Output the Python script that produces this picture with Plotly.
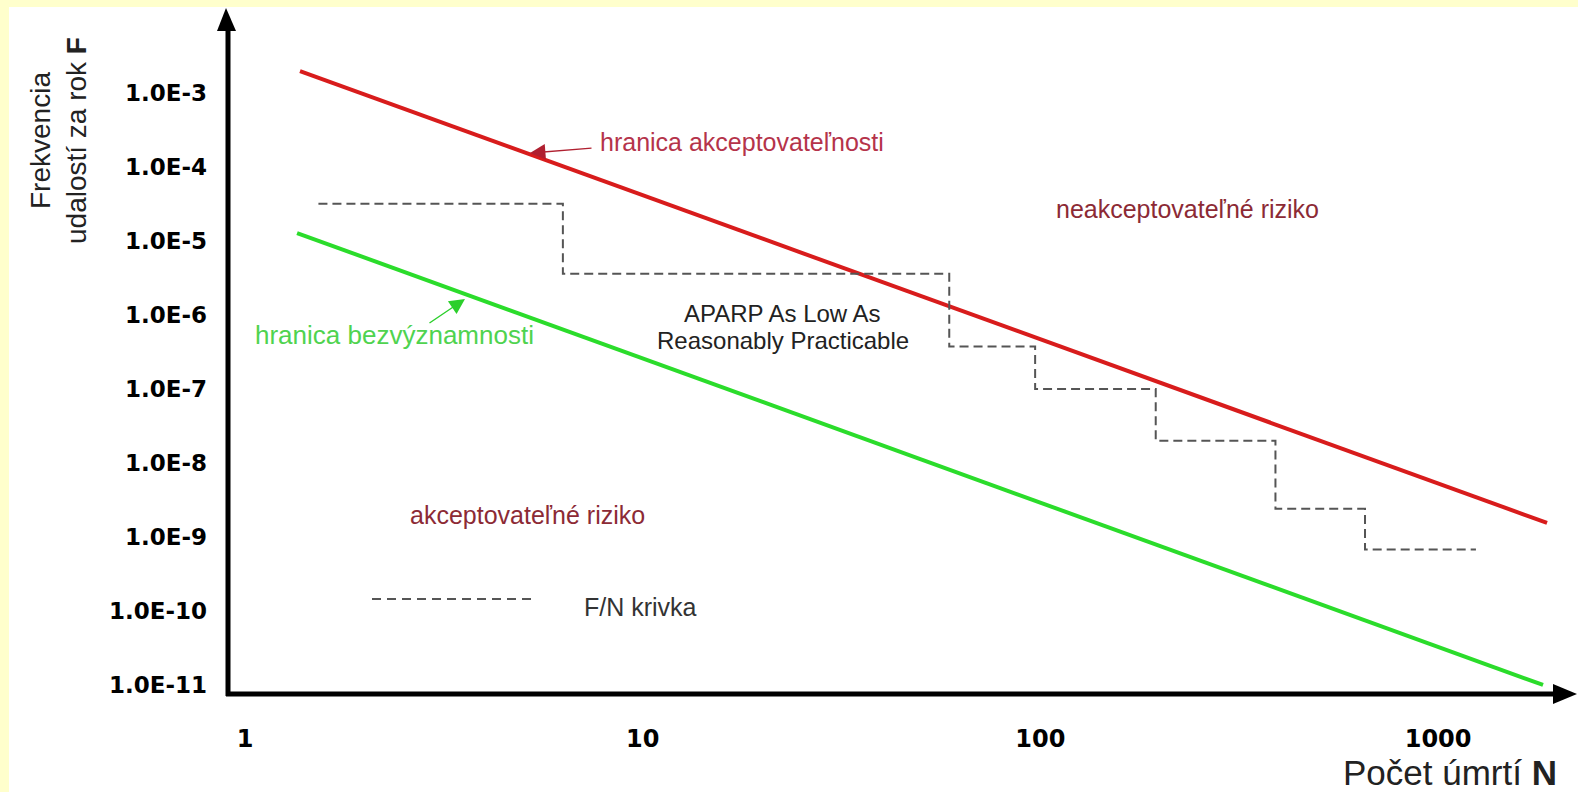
import plotly.graph_objects as go

# ---- data ----
accept_N = [1.375, 1879]          # hranica akceptovateľnosti (red)
accept_F = [1.98e-3, 1.55e-9]
negl_N = [1.352, 1836]            # hranica bezvýznamnosti (green)
negl_F = [1.28e-5, 1.0e-11]
fn_N = [1.53, 6.3, 59, 97, 195, 390, 655, 1245]   # F/N krivka (step)
fn_F = [3.2e-5, 3.6e-6, 3.75e-7, 1.0e-7, 2.0e-8, 2.4e-9, 6.8e-10, 6.8e-10]

y_tickvals = [1e-3, 1e-4, 1e-5, 1e-6, 1e-7, 1e-8, 1e-9, 1e-10, 1e-11]
y_ticktext = ["1.0E-3", "1.0E-4", "1.0E-5", "1.0E-6", "1.0E-7",
              "1.0E-8", "1.0E-9", "1.0E-10", "1.0E-11"]
x_tickvals = [1, 10, 100, 1000]
x_ticktext = ["1", "10", "100", "1000"]

# ---- layout geometry (pixels) ----
WIDTH, HEIGHT = 1578, 792
L, R, T, B = 228, 0, 8, 98
PW, PH = WIDTH - L - R, HEIGHT - T - B


def px(xp):
    return (xp - L) / PW


def py(yp):
    return (HEIGHT - B - yp) / PH


fig = go.Figure()
fig.add_trace(go.Scatter(x=accept_N, y=accept_F, mode="lines",
                         line=dict(color="#d81c1c", width=4), hoverinfo="skip"))
fig.add_trace(go.Scatter(x=negl_N, y=negl_F, mode="lines",
                         line=dict(color="#2bdc2b", width=4), hoverinfo="skip"))
fig.add_trace(go.Scatter(x=fn_N, y=fn_F, mode="lines", line_shape="hv",
                         line=dict(color="#555555", width=2, dash="9px,5px"),
                         hoverinfo="skip"))

TXT = "Liberation Sans, Arial, sans-serif"
BOLD = "DejaVu Sans, sans-serif"
shapes = []
# yellow frame (top and left)
shapes.append(dict(type="rect", xref="paper", yref="paper", x0=px(0), x1=px(WIDTH),
                   y0=py(7), y1=py(0), fillcolor="#ffffcc", line_width=0))
shapes.append(dict(type="rect", xref="paper", yref="paper", x0=px(0), x1=px(9),
                   y0=py(HEIGHT), y1=py(0), fillcolor="#ffffcc", line_width=0))
# axes with arrows
shapes.append(dict(type="line", xref="paper", yref="paper", x0=px(228), x1=px(228),
                   y0=py(696), y1=py(25), line=dict(color="black", width=5)))
shapes.append(dict(type="line", xref="paper", yref="paper", x0=px(226), x1=px(1560),
                   y0=py(694), y1=py(694), line=dict(color="black", width=5)))
shapes.append(dict(type="path", xref="paper", yref="paper",
                   path=f"M {px(226)},{py(8)} L {px(217)},{py(31)} L {px(236)},{py(31)} Z",
                   fillcolor="black", line_width=0))
shapes.append(dict(type="path", xref="paper", yref="paper",
                   path=f"M {px(1577)},{py(694)} L {px(1553)},{py(684)} L {px(1553)},{py(704)} Z",
                   fillcolor="black", line_width=0))
# legend sample line
shapes.append(dict(type="line", xref="paper", yref="paper", x0=px(372), x1=px(532),
                   y0=py(599), y1=py(599),
                   line=dict(color="#555555", width=2, dash="9px,6px")))

ann = []


def text(t, xp, yp, size, color, xanchor="center", angle=0):
    ann.append(dict(text=t, xref="paper", yref="paper", x=px(xp), y=py(yp),
                    xanchor=xanchor, yanchor="middle", showarrow=False,
                    textangle=angle, font=dict(family=TXT, size=size, color=color)))


text("hranica akceptovateľnosti", 598, 142, 25, "#b5334a", xanchor="left")
text("neakceptovateľné riziko", 1187, 209, 25, "#8c2a35")
text("APARP As Low As", 782, 314, 24, "#222222")
text("Reasonably Practicable", 783, 340, 24, "#222222")
text("hranica bezvýznamnosti", 253, 335, 26, "#4fd34f", xanchor="left")
text("akceptovateľné riziko", 527, 515, 25, "#8c2a35")
text("F/N krivka", 582, 607, 25, "#333333", xanchor="left")
text("Frekvencia<br>udalostí za rok <b>F</b>", 58, 141, 28, "#222222", angle=-90)
text("Počet úmrtí <b>N</b>", 1450, 772, 35, "#222222")

# arrows pointing to the boundary lines
ann.append(dict(text="", xref="paper", yref="paper", x=px(530), y=py(153),
                ax=63, ay=-5, showarrow=True, arrowhead=2, arrowsize=2.2,
                arrowwidth=1.4, arrowcolor="#b02030", standoff=0))
ann.append(dict(text="", xref="paper", yref="paper", x=px(465), y=py(299),
                ax=-37, ay=25, showarrow=True, arrowhead=2, arrowsize=2.2,
                arrowwidth=1.4, arrowcolor="#2bcf2b", standoff=0))

fig.update_layout(
    width=WIDTH, height=HEIGHT,
    margin=dict(l=L, r=R, t=T, b=B, pad=0),
    paper_bgcolor="white", plot_bgcolor="white",
    showlegend=False,
    shapes=shapes, annotations=ann,
    xaxis=dict(type="log", range=[-0.0427, 3.3518], showgrid=False, zeroline=False,
               showline=False, tickmode="array", tickvals=x_tickvals,
               ticktext=[f"<b>{t}</b>" for t in x_ticktext], ticks="",
               ticklabelstandoff=28,
               tickfont=dict(family=BOLD, size=24, color="black")),
    yaxis=dict(type="log", range=[-11.122, -1.851], showgrid=False, zeroline=False,
               showline=False, tickmode="array", tickvals=y_tickvals,
               ticktext=[f"<b>{t}</b>" for t in y_ticktext], ticks="",
               ticklabelstandoff=20,
               tickfont=dict(family=BOLD, size=23, color="black")),
)

fig.write_html("out.html",
               config={"displayModeBar": False},
               post_script="document.body.style.margin='0px';"
                           "document.body.style.overflow='hidden';")
